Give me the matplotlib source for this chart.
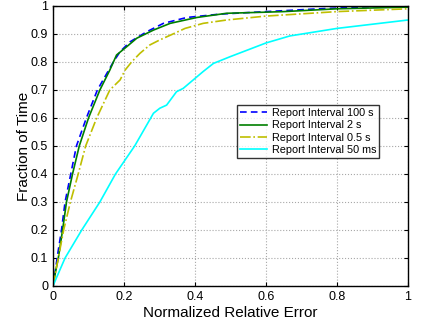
import numpy as np
import matplotlib
matplotlib.use("Agg")
import matplotlib.pyplot as plt

plt.rcParams["font.family"] = ["Liberation Sans", "DejaVu Sans"]

# CDF curves (x = normalized relative error, y = fraction of time)
x_100s = [0, 0.006, 0.014, 0.024, 0.034, 0.05, 0.066, 0.094, 0.125, 0.17, 0.189, 0.217,
          0.264, 0.311, 0.377, 0.47, 0.6, 0.75, 0.9, 1.0]
y_100s = [0, 0.05, 0.12, 0.2, 0.3, 0.4, 0.5, 0.6, 0.7, 0.8, 0.837, 0.872,
          0.908, 0.938, 0.959, 0.971, 0.98, 0.99, 0.998, 1.0]

x_2s = [0, 0.007, 0.015, 0.027, 0.038, 0.055, 0.074, 0.1, 0.132, 0.16, 0.179, 0.208,
        0.236, 0.283, 0.33, 0.405, 0.489, 0.6, 0.65, 0.8, 1.0]
y_2s = [0, 0.05, 0.1, 0.2, 0.3, 0.4, 0.5, 0.6, 0.7, 0.771, 0.825, 0.855,
        0.885, 0.914, 0.938, 0.959, 0.974, 0.978, 0.98, 0.99, 0.996]

x_05s = [0, 0.007, 0.015, 0.03, 0.049, 0.071, 0.092, 0.123, 0.16, 0.189, 0.203, 0.222,
         0.245, 0.273, 0.301, 0.338, 0.372, 0.423, 0.489, 0.6, 0.65, 0.8, 1.0]
y_05s = [0, 0.05, 0.1, 0.2, 0.3, 0.4, 0.5, 0.6, 0.7, 0.736, 0.771, 0.801,
         0.831, 0.861, 0.879, 0.9, 0.92, 0.938, 0.95, 0.964, 0.968, 0.98, 0.99]

x_50ms = [0, 0.01, 0.034, 0.081, 0.132, 0.176, 0.203, 0.23, 0.245, 0.283, 0.301, 0.32,
          0.348, 0.367, 0.423, 0.452, 0.499, 0.6, 0.667, 0.8, 0.9, 1.0]
y_50ms = [0, 0.03, 0.1, 0.2, 0.3, 0.4, 0.45, 0.5, 0.533, 0.617, 0.635, 0.646,
          0.694, 0.706, 0.766, 0.795, 0.819, 0.868, 0.893, 0.92, 0.935, 0.95]

labels = ["Report Interval 100 s", "Report Interval 2 s",
          "Report Interval 0.5 s", "Report Interval 50 ms"]

fig = plt.figure(figsize=(4.22, 3.28), dpi=100)
ax = fig.add_axes([53 / 422, 42 / 328, 355 / 422, 280 / 328])

ax.plot(x_100s, y_100s, "--", color="#0000ff", lw=1.2, dashes=(4, 2.5), label=labels[0])
ax.plot(x_2s, y_2s, "-", color="#007f00", lw=1.2, label=labels[1])
ax.plot(x_05s, y_05s, "-.", color="#bfbf00", lw=1.2, label=labels[2])
ax.plot(x_50ms, y_50ms, "-", color="#00ffff", lw=1.2, label=labels[3])

ax.set_xlim(0, 1)
ax.set_ylim(0, 1)
ax.set_xticks(np.arange(0, 1.01, 0.2))
ax.set_xticklabels(["0", "0.2", "0.4", "0.6", "0.8", "1"])
ax.set_yticks(np.arange(0, 1.01, 0.1))
ax.set_yticklabels(["0", "0.1", "0.2", "0.3", "0.4", "0.5", "0.6", "0.7", "0.8", "0.9", "1"])
ax.tick_params(direction="in", top=True, right=True, labelsize=9, length=3)
ax.grid(True, linestyle=":", color="#a8a8a8", lw=0.8)
for s in ax.spines.values():
    s.set_linewidth(1.0)

ax.set_xlabel("Normalized Relative Error", fontsize=11, labelpad=2)
ax.set_ylabel("Fraction of Time", fontsize=11, labelpad=0)

leg = ax.legend(loc="upper left", bbox_to_anchor=(184 / 355, (286 - 105) / 280),
                fontsize=7.8, frameon=True, fancybox=False, handlelength=2.5,
                borderpad=0.3, labelspacing=0.2, handletextpad=0.4, borderaxespad=0)
leg.get_frame().set_edgecolor("black")
leg.get_frame().set_linewidth(1.0)

fig.savefig("out.png", dpi=100)
